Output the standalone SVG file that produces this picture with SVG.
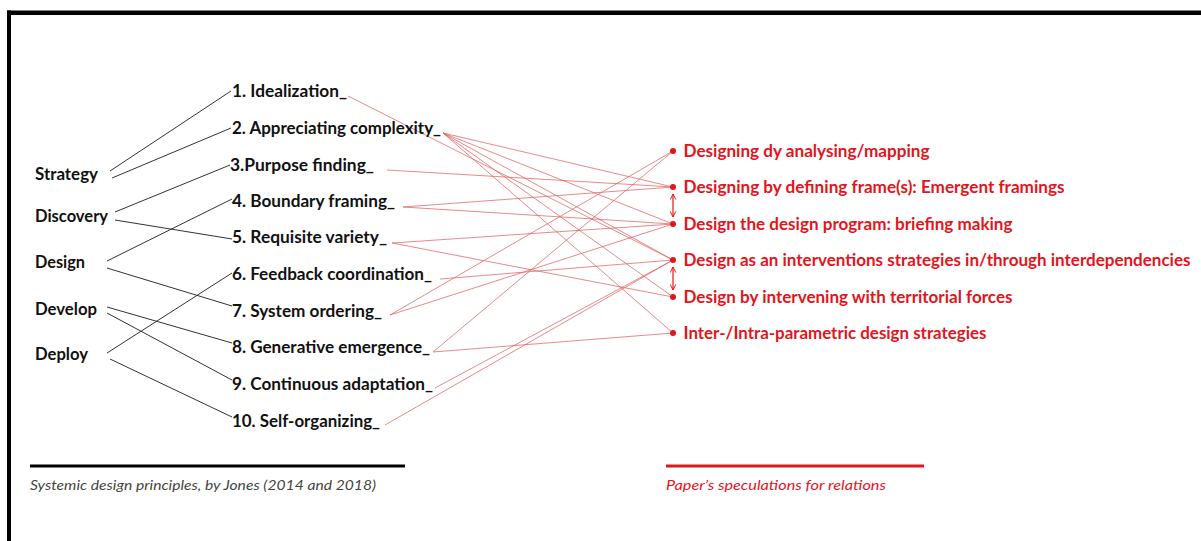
<svg xmlns="http://www.w3.org/2000/svg" width="1201" height="541" viewBox="0 0 1201 541">
<defs>
<style>
.blk{font-family:Lato,"Liberation Sans",sans-serif;font-weight:bold;font-size:16.5px;fill:#111;}
.red{font-family:Lato,"Liberation Sans",sans-serif;font-weight:bold;font-size:16.5px;fill:#e3141c;}
.cap{font-family:Lato,"Liberation Sans",sans-serif;font-style:italic;font-size:13px;}
.bl{stroke:#333;stroke-width:1;fill:none;}
.rl{stroke:#e05a5a;stroke-width:0.8;fill:none;stroke-opacity:0.9;}
.dot{fill:#e3141c;}
.arw{stroke:#e3141c;stroke-width:1.2;fill:none;}
</style>
<marker id="ah" viewBox="0 0 10 10" refX="9" refY="5" markerWidth="7" markerHeight="7" orient="auto-start-reverse" markerUnits="userSpaceOnUse">
<path d="M1,1 L9,5 L1,9" fill="none" stroke="#e3141c" stroke-width="1.4"/>
</marker>
</defs>
<rect width="1201" height="541" fill="#fff"/>
<g id="frame">
<rect x="7" y="10.5" width="1194" height="4.5" fill="#000"/>
<rect x="7" y="10.5" width="4" height="531" fill="#000"/>
</g>
<g id="connectors">
<g id="black-links">
<line class="bl" x1="110" y1="171" x2="231" y2="91"/>
<line class="bl" x1="112" y1="178" x2="231" y2="128"/>
<line class="bl" x1="115" y1="212" x2="230" y2="165"/>
<line class="bl" x1="115" y1="220" x2="232" y2="239"/>
<line class="bl" x1="107" y1="261" x2="232" y2="199"/>
<line class="bl" x1="107" y1="268" x2="232" y2="306"/>
<line class="bl" x1="107" y1="307" x2="232" y2="343"/>
<line class="bl" x1="107" y1="313" x2="232" y2="380"/>
<line class="bl" x1="107" y1="353" x2="232" y2="273"/>
<line class="bl" x1="110" y1="359" x2="232" y2="417"/>
</g>
<g id="red-links">
<line class="rl" x1="348" y1="96" x2="673" y2="260"/>
<line class="rl" x1="443" y1="133" x2="673" y2="187"/>
<line class="rl" x1="443" y1="133" x2="673" y2="224"/>
<line class="rl" x1="443" y1="133" x2="673" y2="260"/>
<line class="rl" x1="443" y1="133" x2="673" y2="297"/>
<line class="rl" x1="443" y1="133" x2="673" y2="333"/>
<line class="rl" x1="387" y1="170" x2="673" y2="187"/>
<line class="rl" x1="403" y1="207" x2="673" y2="187"/>
<line class="rl" x1="403" y1="207" x2="673" y2="224"/>
<line class="rl" x1="392" y1="243" x2="673" y2="224"/>
<line class="rl" x1="392" y1="243" x2="673" y2="297"/>
<line class="rl" x1="440" y1="279" x2="673" y2="260"/>
<line class="rl" x1="390" y1="315" x2="673" y2="151"/>
<line class="rl" x1="390" y1="315" x2="673" y2="224"/>
<line class="rl" x1="433" y1="352" x2="673" y2="151"/>
<line class="rl" x1="433" y1="352" x2="673" y2="333"/>
<line class="rl" x1="435" y1="388" x2="673" y2="260"/>
<line class="rl" x1="385" y1="425" x2="673" y2="260"/>
</g>
<g id="double-arrows">
<line class="arw" x1="673" y1="194" x2="673" y2="217" marker-start="url(#ah)" marker-end="url(#ah)"/>
<line class="arw" x1="673" y1="267" x2="673" y2="290" marker-start="url(#ah)" marker-end="url(#ah)"/>
</g>
</g>
<g id="categories">
<g id="cat-strategy"><text class="blk" x="35" y="180" textLength="63" lengthAdjust="spacingAndGlyphs">Strategy</text></g>
<g id="cat-discovery"><text class="blk" x="35" y="222" textLength="73" lengthAdjust="spacingAndGlyphs">Discovery</text></g>
<g id="cat-design"><text class="blk" x="35" y="268" textLength="50" lengthAdjust="spacingAndGlyphs">Design</text></g>
<g id="cat-develop"><text class="blk" x="35" y="315" textLength="62" lengthAdjust="spacingAndGlyphs">Develop</text></g>
<g id="cat-deploy"><text class="blk" x="35" y="360" textLength="53" lengthAdjust="spacingAndGlyphs">Deploy</text></g>
</g>
<g id="principles">
<g id="p1"><text class="blk" x="232" y="97" textLength="115" lengthAdjust="spacingAndGlyphs">1. Idealization_</text></g>
<g id="p2"><text class="blk" x="232" y="134" textLength="209" lengthAdjust="spacingAndGlyphs">2. Appreciating complexity_</text></g>
<g id="p3"><text class="blk" x="230" y="171" textLength="144" lengthAdjust="spacingAndGlyphs">3.Purpose finding_</text></g>
<g id="p4"><text class="blk" x="232" y="207" textLength="163" lengthAdjust="spacingAndGlyphs">4. Boundary framing_</text></g>
<g id="p5"><text class="blk" x="232" y="243" textLength="155" lengthAdjust="spacingAndGlyphs">5. Requisite variety_</text></g>
<g id="p6"><text class="blk" x="232" y="280" textLength="200" lengthAdjust="spacingAndGlyphs">6. Feedback coordination_</text></g>
<g id="p7"><text class="blk" x="232" y="317" textLength="150" lengthAdjust="spacingAndGlyphs">7. System ordering_</text></g>
<g id="p8"><text class="blk" x="232" y="353" textLength="198" lengthAdjust="spacingAndGlyphs">8. Generative emergence_</text></g>
<g id="p9"><text class="blk" x="232" y="390" textLength="201" lengthAdjust="spacingAndGlyphs">9. Continuous adaptation_</text></g>
<g id="p10"><text class="blk" x="232" y="427" textLength="148" lengthAdjust="spacingAndGlyphs">10. Self-organizing_</text></g>
</g>
<g id="strategies">
<g id="s1"><circle class="dot" cx="673" cy="151" r="3"/><text class="red" x="683.5" y="157" textLength="246" lengthAdjust="spacingAndGlyphs">Designing dy analysing/mapping</text></g>
<g id="s2"><circle class="dot" cx="673" cy="187" r="3"/><text class="red" x="683.5" y="193" textLength="381" lengthAdjust="spacingAndGlyphs">Designing by defining frame(s): Emergent framings</text></g>
<g id="s3"><circle class="dot" cx="673" cy="224" r="3"/><text class="red" x="683.5" y="230" textLength="329" lengthAdjust="spacingAndGlyphs">Design the design program: briefing making</text></g>
<g id="s4"><circle class="dot" cx="673" cy="260" r="3"/><text class="red" x="683.5" y="266" textLength="507" lengthAdjust="spacingAndGlyphs">Design as an interventions strategies in/through interdependencies</text></g>
<g id="s5"><circle class="dot" cx="673" cy="297" r="3"/><text class="red" x="683.5" y="303" textLength="329" lengthAdjust="spacingAndGlyphs">Design by intervening with territorial forces</text></g>
<g id="s6"><circle class="dot" cx="673" cy="333" r="3"/><text class="red" x="683.5" y="339" textLength="303" lengthAdjust="spacingAndGlyphs">Inter-/Intra-parametric design strategies</text></g>
</g>
<g id="legend">
<rect x="30" y="464.5" width="375" height="3" fill="#000"/>
<text class="cap" x="30" y="490" fill="#444" textLength="346" lengthAdjust="spacingAndGlyphs">Systemic design principles, by Jones (2014 and 2018)</text>
<rect x="666" y="464.5" width="258" height="3" fill="#e3141c"/>
<text class="cap" x="666" y="490" fill="#e3141c" textLength="220" lengthAdjust="spacingAndGlyphs">Paper’s speculations for relations</text>
</g>
</svg>
